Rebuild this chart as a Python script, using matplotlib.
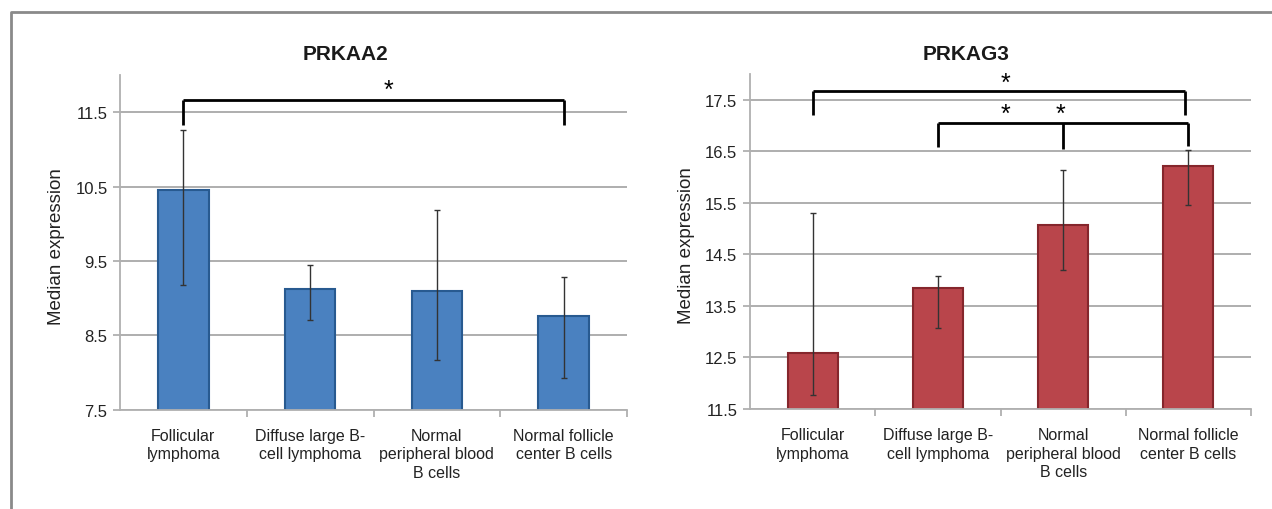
import matplotlib
matplotlib.use("Agg")
import matplotlib.pyplot as plt
from matplotlib.lines import Line2D
import numpy as np

plt.rcParams['font.family'] = ['Liberation Sans', 'DejaVu Sans']

categories = ["Follicular\nlymphoma", "Diffuse large B-\ncell lymphoma",
              "Normal\nperipheral blood\nB cells", "Normal follicle\ncenter B cells"]

prkaa2_median = [10.45, 9.12, 9.10, 8.76]
prkaa2_low = [9.17, 8.71, 8.17, 7.93]
prkaa2_high = [11.26, 9.45, 10.18, 9.28]

prkag3_median = [12.59, 13.84, 15.07, 16.21]
prkag3_low = [11.78, 13.08, 14.19, 15.46]
prkag3_high = [15.31, 14.08, 16.14, 16.53]

prkaa2_ticks = [7.5, 8.5, 9.5, 10.5, 11.5]
prkag3_ticks = [11.5, 12.5, 13.5, 14.5, 15.5, 16.5, 17.5]

W, H = 1272, 510
fig = plt.figure(figsize=(W / 100, H / 100), dpi=100)

# outer frame (clipped at right and bottom)
fig.add_artist(Line2D([11 / W, 11 / W, 1.0], [0.0, 1 - 13 / H, 1 - 13 / H],
                      transform=fig.transFigure, color="#8a8a8a", lw=2.0))


def px_axes(x0, x1, ytop, ybot):
    return [x0 / W, 1 - ybot / H, (x1 - x0) / W, (ybot - ytop) / H]


def draw_panel(ax, med, low, high, ticks, ylim, face, edge):
    x = np.arange(len(categories))
    med = np.array(med)
    yerr = [med - np.array(low), np.array(high) - med]
    ax.set_axisbelow(True)
    ax.yaxis.grid(True, color="#a8a8a8", lw=1.3)
    ax.bar(x, med, width=0.4, color=face, edgecolor=edge, linewidth=1.5, zorder=2)
    ax.errorbar(x, med, yerr=yerr, fmt="none", ecolor="#333333", elinewidth=1.0,
                capsize=2.5, capthick=1.0, zorder=3)
    ax.set_xlim(-0.5, len(categories) - 0.5)
    ax.set_ylim(*ylim)
    ax.set_yticks(ticks)
    ax.set_yticklabels([f"{t:.1f}" for t in ticks], fontsize=12, color="#222222")
    ax.set_xticks(x)
    ax.set_xticklabels(categories, fontsize=11.5, color="#222222", linespacing=1.3)
    ax.tick_params(axis="x", length=0, pad=13)
    ax.set_xticks(np.arange(0.5, len(categories), 1.0), minor=True)
    ax.tick_params(axis="x", which="minor", length=5, color="#b0b0b0", width=1.3)
    ax.tick_params(axis="y", length=5, color="#b0b0b0", width=1.3, pad=4)
    for s in ["top", "right"]:
        ax.spines[s].set_visible(False)
    for s in ["left", "bottom"]:
        ax.spines[s].set_color("#b0b0b0")
        ax.spines[s].set_linewidth(1.3)
    ax.set_ylabel("Median expression", fontsize=13.5, color="#222222")


def bracket(ax, xs, ytop, ybots):
    ax.plot([xs[0], xs[-1]], [ytop, ytop], color="black", lw=2.0, clip_on=False,
            solid_capstyle="butt", zorder=4)
    for xx, yb in zip(xs, ybots):
        ax.plot([xx, xx], [ytop, yb], color="black", lw=2.0, clip_on=False,
                solid_capstyle="butt", zorder=4)


# Left panel
ax1 = fig.add_axes(px_axes(120, 627, 76, 410.7))
draw_panel(ax1, prkaa2_median, prkaa2_low, prkaa2_high, prkaa2_ticks, (7.5, 12.0),
           "#4a81c0", "#285a90")
ax1.yaxis.set_label_coords(-0.108, 0.49)
bracket(ax1, [0, 3], 11.66, [11.33, 11.33])
ax1.text(1.62, 11.80, "*", ha="center", va="center", fontsize=18)

# Right panel
ax2 = fig.add_axes(px_axes(750, 1251, 75, 410))
draw_panel(ax2, prkag3_median, prkag3_low, prkag3_high, prkag3_ticks, (11.5, 18.0),
           "#b9454b", "#85262c")
ax2.yaxis.set_label_coords(-0.11, 0.49)
bracket(ax2, [0, 2.97], 17.67, [17.2, 17.2])
bracket(ax2, [1, 2, 3], 17.05, [16.58, 16.55, 16.6])
ax2.text(1.54, 17.83, "*", ha="center", va="center", fontsize=18)
ax2.text(1.54, 17.23, "*", ha="center", va="center", fontsize=18)
ax2.text(1.98, 17.23, "*", ha="center", va="center", fontsize=18)

# Titles
fig.text(346 / W, 1 - 54 / H, "PRKAA2", ha="center", va="center", fontsize=15,
         fontweight="bold", color="#1a1a1a")
fig.text(966 / W, 1 - 54 / H, "PRKAG3", ha="center", va="center", fontsize=15,
         fontweight="bold", color="#1a1a1a")

fig.savefig("out.png", dpi=100)
